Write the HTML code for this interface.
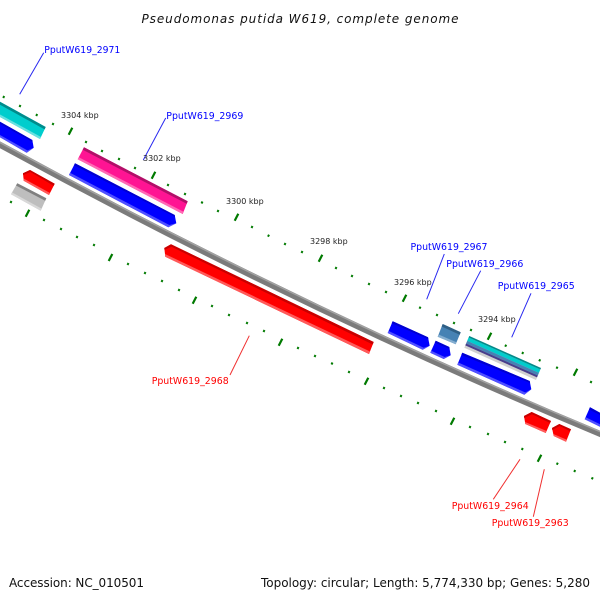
<!DOCTYPE html>
<html><head><meta charset="utf-8"><style>
html,body{margin:0;padding:0;background:#fff}
svg{display:block}
text{font-family:"DejaVu Sans",sans-serif}
.b{fill:#00f;font-size:10px}.r{fill:#f00;font-size:10px}.k{fill:#222;font-size:8px}
.f{fill:#111;font-size:12px}
</style></head><body>
<svg width="600" height="600" viewBox="0 0 600 600" xmlns="http://www.w3.org/2000/svg">
<rect width="600" height="600" fill="#fff"/>
<text x="141.5" y="23" textLength="317" font-size="12" font-style="italic" fill="#111">Pseudomonas putida W619, complete genome</text>
<path d="M-5 142.1Q300 309 605 436" fill="none" stroke="#7b7b7b" stroke-width="6"/>
<path d="M-5 139.8Q300 306.7 605 433.7" fill="none" stroke="#a2a2a2" stroke-width="1.5"/>
<g stroke="#007a00" stroke-width="2" fill="none">
<path stroke-width="2.2" d="M68.7 134.7L72.3 127.7M151.7 178.7L155.3 171.7M234.7 220.7L238.3 213.7M318.7 261.7L322.3 254.7M402.7 301.7L406.3 294.7M487.7 339.7L491.3 332.7M573.7 375.7L577.3 368.7"/>
<path stroke-width="2.2" d="M25.7 216.7L29.3 209.7M108.7 261L112.3 254M192.7 303.7L196.3 296.7M278.7 345.7L282.3 338.7M364.7 384.7L368.3 377.7M450.7 424.7L454.3 417.7M537.7 461.7L541.3 454.7"/>
<path d="M3.2 98L4.2 96M19.5 107L20.5 105M36.2 116L37.2 114M52.5 125L53.5 123M85.5 143L86.5 141M101.5 152L102.5 150M118.5 160L119.5 158M134.5 169L135.5 167M167.5 186L168.5 184M184.5 195L185.5 193M201.5 203.5L202.5 201.5M217.5 212L218.5 210M251.5 228L252.5 226M268 236.7L269 234.7M284.5 245L285.5 243M301.5 253L302.5 251M335.5 269L336.5 267M351.5 277L352.5 275M368.5 285L369.5 283M385.5 293L386.5 291M419.5 308.7L420.5 306.7M436.5 316L437.5 314M453.5 324L454.5 322M470.5 331L471.5 329M505.2 346.7L506.2 344.7M522.2 354L523.2 352M539.2 361.3L540.2 359.3M556.5 368.7L557.5 366.7M590.5 383L591.5 381"/>
<path d="M10.5 203L11.5 201M43.5 221L44.5 219M60.5 230L61.5 228M76.5 238L77.5 236M93.5 246L94.5 244M127.5 265L128.5 263M144.5 274L145.5 272M161.5 282L162.5 280M178.5 291L179.5 289M211.5 307L212.5 305M228.5 316L229.5 314M246.5 324L247.5 322M263.5 332L264.5 330M297.5 349L298.5 347M314.5 357L315.5 355M331.5 364.5L332.5 362.5M348.5 373L349.5 371M383.5 389L384.5 387M400.5 397L401.5 395M417.5 404L418.5 402M435.5 412L436.5 410M469.5 428L470.5 426M487.5 435L488.5 433M504.5 443L505.5 441M521.8 450L522.8 448M556.8 464.7L557.8 462.7M574.2 472L575.2 470M591.8 479.3L592.8 477.3"/>
</g>
<!-- cyan 2971 -->
<polygon points="0,101.7 45.7,127 40,139 0,117" fill="#00cdcd"/>
<polygon points="0,101.7 45.7,127 44.6,129.4 0,104.7" fill="#008b8b"/>
<polygon points="0,114.5 41,137 40,139 0,117" fill="#66e0e0"/>
<!-- blue 1 -->
<polygon points="0,121.7 32.3,140 33.7,147.7 26.7,152.7 0,137.3" fill="#00f"/>
<polygon points="0,121.7 32.3,140 32.6,142 0,124" fill="#0000d0"/>
<polygon points="0,135 27.5,150.5 33.7,147.7 26.7,152.7 0,137.3" fill="#5050ff"/>
<!-- red small -->
<polygon points="30,170 23,173.3 23.7,180.7 49,195 54.7,183.7" fill="#f00"/>
<polygon points="30,170 23,173.3 23.2,175 30.5,172 53.7,185.9 54.7,183.7" fill="#c80000"/>
<polygon points="23.5,178.5 50,193 49,195 23.7,180.7" fill="#ff5a5a"/>
<!-- gray -->
<polygon points="17.3,183.3 46.3,198.3 40.7,210.7 11,194.3" fill="#bebebe"/>
<polygon points="17.3,183.3 46.3,198.3 45.2,200.8 16,185.5" fill="#808080"/>
<polygon points="12,192.4 41.6,208.6 40.7,210.7 11,194.3" fill="#d8d8d8"/>
<!-- magenta -->
<polygon points="84,147.3 187.7,201.3 182.7,214 77.7,159.3" fill="#ff1493"/>
<polygon points="84,147.3 187.7,201.3 186.7,203.8 82.7,149.7" fill="#b01068"/>
<polygon points="78.8,157.3 183.5,211.8 182.7,214 77.7,159.3" fill="#ff69b4"/>
<!-- blue 2 -->
<polygon points="75,163.3 174.7,215 176.3,223.3 168.3,227.3 69,175" fill="#00f"/>
<polygon points="75,163.3 174.7,215 175,217 74,165.3" fill="#0000d0"/>
<polygon points="70,172.8 169.3,225 176.3,223.3 168.3,227.3 69,175" fill="#5050ff"/>
<!-- red big -->
<polygon points="171,244.3 164.3,248 165.3,256.7 369,354 373.7,342" fill="#f00"/>
<polygon points="171,244.3 164.3,248 164.5,250 171.5,246.8 372.7,344.5 373.7,342" fill="#c80000"/>
<polygon points="165,254 370,351.5 369,354 165.3,256.7" fill="#ff5a5a"/>
<!-- blue A -->
<polygon points="392.7,321.3 428,337.3 429.7,345.7 422.7,349.7 387.7,333" fill="#00f"/>
<polygon points="392.7,321.3 428,337.3 428.4,339.3 391.7,323.3" fill="#0000d0"/>
<polygon points="388.7,331 423.7,347.7 429.7,345.7 422.7,349.7 387.7,333" fill="#5050ff"/>
<!-- steelblue -->
<polygon points="442.7,324 460.7,332.3 455.7,344.3 437.7,336.7" fill="#4682b4"/>
<polygon points="442.7,324 460.7,332.3 459.7,334.7 441.7,326.5" fill="#2f5f85"/>
<polygon points="438.5,334.5 456.5,342.2 455.7,344.3 437.7,336.7" fill="#85aed0"/>
<!-- blue B -->
<polygon points="435.7,340.7 449.3,347 450.7,355.3 443.7,359 430.3,352.7" fill="#00f"/>
<polygon points="435.7,340.7 449.3,347 449.6,349 434.7,342.7" fill="#0000d0"/>
<polygon points="431.2,350.7 444.6,357 450.7,355.3 443.7,359 430.3,352.7" fill="#5050ff"/>
<!-- blue C -->
<polygon points="462.3,352.7 529.7,381 531.3,389.3 524.3,394.7 457.3,364.7" fill="#00f"/>
<polygon points="462.3,352.7 529.7,381 530.1,383 461.3,354.9" fill="#0000d0"/>
<polygon points="458.3,362.5 525.3,392.5 531.3,389.3 524.3,394.7 457.3,364.7" fill="#5050ff"/>
<!-- stacked 2965 -->
<polygon points="469.3,336 541,368 536,380 464.3,347.7" fill="#d0d0d0"/>
<polygon points="468.6,337.5 540.3,369.5 538.9,372.9 467.2,340.9" fill="#00cdcd"/>
<polygon points="469.3,336 541,368 540.3,369.5 468.6,337.5" fill="#008b8b"/>
<polygon points="467.2,340.9 538.9,372.9 537.8,375.5 466.1,343.5" fill="#4682b4"/>
<polygon points="466.1,343.5 537.8,375.5 537,377.4 465.3,345.4" fill="#483d8b"/>
<!-- red A -->
<polygon points="531.7,412 524,416 525.3,424 545.7,433 551,421" fill="#f00"/>
<polygon points="531.7,412 524,416 524.2,418 532,414.2 550,423 551,421" fill="#c80000"/>
<polygon points="525.1,422 546.6,431 545.7,433 525.3,424" fill="#ff5a5a"/>
<!-- red B -->
<polygon points="559.3,424 552,428 553.7,436 566,441.7 571,429.3" fill="#f00"/>
<polygon points="559.3,424 552,428 552.3,430 559.8,426 570,431.3 571,429.3" fill="#c80000"/>
<polygon points="553.3,434 566.9,439.7 566,441.7 553.7,436" fill="#ff5a5a"/>
<!-- blue right -->
<polygon points="590,407.3 600,412.7 600,426.7 584.7,419.3" fill="#00f"/>
<polygon points="590,407.3 600,412.7 600,415 589,409.5" fill="#0000d0"/>
<polygon points="585.7,417.2 600,424.3 600,426.7 584.7,419.3" fill="#5050ff"/>
<g fill="none" stroke-width="1">
<path stroke="#2828f0" d="M43.7 52.7L19.7 94.3M165.7 118L143.3 160M444.3 254L426.7 299.3M480.7 270.7L458.3 313.7M531 293.3L511.7 337.3"/>
<path stroke="#f03030" d="M249.3 335.7L230 375M520 459.3L493.3 499.3M544.3 469.3L533.3 516.7"/>
</g>
<text class="k" x="61" y="118">3304 kbp</text>
<text class="k" x="143" y="161">3302 kbp</text>
<text class="k" x="226" y="204">3300 kbp</text>
<text class="k" x="310" y="244">3298 kbp</text>
<text class="k" x="394" y="285">3296 kbp</text>
<text class="k" x="478" y="322">3294 kbp</text>
<text class="b" x="44.3" y="53" textLength="76" lengthAdjust="spacingAndGlyphs">PputW619_2971</text>
<text class="b" x="166.3" y="119" textLength="77" lengthAdjust="spacingAndGlyphs">PputW619_2969</text>
<text class="b" x="410.5" y="250" textLength="77" lengthAdjust="spacingAndGlyphs">PputW619_2967</text>
<text class="b" x="446.3" y="267" textLength="77" lengthAdjust="spacingAndGlyphs">PputW619_2966</text>
<text class="b" x="497.7" y="289" textLength="77" lengthAdjust="spacingAndGlyphs">PputW619_2965</text>
<text class="r" x="151.7" y="384" textLength="77" lengthAdjust="spacingAndGlyphs">PputW619_2968</text>
<text class="r" x="451.7" y="509" textLength="77" lengthAdjust="spacingAndGlyphs">PputW619_2964</text>
<text class="r" x="491.7" y="526" textLength="77" lengthAdjust="spacingAndGlyphs">PputW619_2963</text>
<text class="f" x="9" y="587" textLength="135">Accession: NC_010501</text>
<text class="f" x="261" y="587" textLength="329">Topology: circular; Length: 5,774,330 bp; Genes: 5,280</text>
</svg>
</body></html>
